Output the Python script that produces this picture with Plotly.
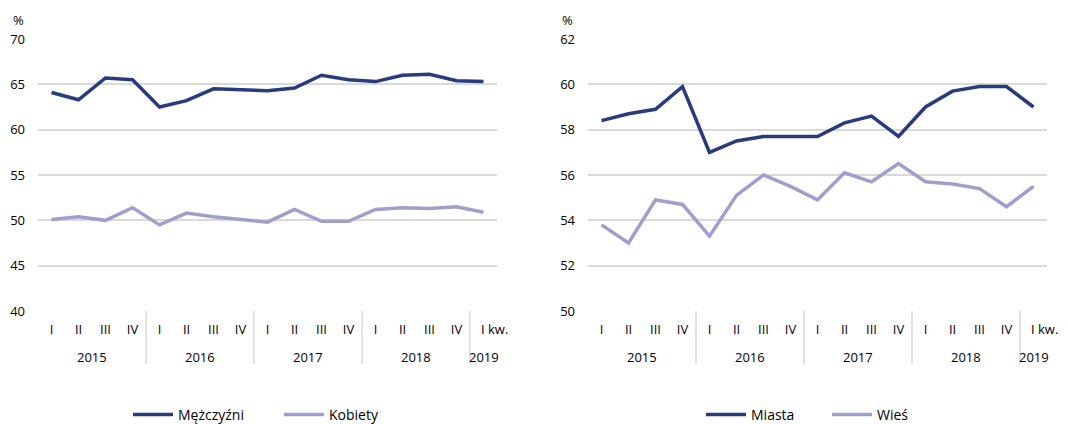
import plotly.graph_objects as go

quarters = ["I", "II", "III", "IV"] * 4 + ["I"]
years = ["2015", "2016", "2017", "2018", "2019"]
year_sizes = [4, 4, 4, 4, 1]

men = [64.1, 63.3, 65.7, 65.5, 62.5, 63.2, 64.5, 64.4, 64.3, 64.6, 66.0, 65.5, 65.3, 66.0, 66.1, 65.4, 65.3]
women = [50.1, 50.4, 50.0, 51.4, 49.5, 50.8, 50.4, 50.1, 49.8, 51.2, 49.9, 49.9, 51.2, 51.4, 51.3, 51.5, 50.9]
cities = [58.4, 58.7, 58.9, 59.9, 57.0, 57.5, 57.7, 57.7, 57.7, 58.3, 58.6, 57.7, 59.0, 59.7, 59.9, 59.9, 59.0]
rural = [53.8, 53.0, 54.9, 54.7, 53.3, 55.1, 56.0, 55.5, 54.9, 56.1, 55.7, 56.5, 55.7, 55.6, 55.4, 54.6, 55.5]

DARK = "#2A3A7E"
LIGHT = "#A09FCC"
GRID = "#D9D9D9"
FONT = "Open Sans"

# page body has an 8px margin, so the figure is drawn at (8, 8)
OFF = 8
W, H = 1068 - OFF, 424 - OFF


def fx(px):
    return (px - OFF) / W


def fy(py):
    return 1 - (py - OFF) / H


x = list(range(len(quarters)))

fig = go.Figure()
fig.add_trace(go.Scatter(x=x, y=men, name="Mężczyźni", mode="lines",
                         line=dict(color=DARK, width=3.5), xaxis="x", yaxis="y", legend="legend"))
fig.add_trace(go.Scatter(x=x, y=women, name="Kobiety", mode="lines",
                         line=dict(color=LIGHT, width=3.5), xaxis="x", yaxis="y", legend="legend"))
fig.add_trace(go.Scatter(x=x, y=cities, name="Miasta", mode="lines",
                         line=dict(color=DARK, width=3.5), xaxis="x2", yaxis="y2", legend="legend2"))
fig.add_trace(go.Scatter(x=x, y=rural, name="Wieś", mode="lines",
                         line=dict(color=LIGHT, width=3.5), xaxis="x2", yaxis="y2", legend="legend2"))

ydom = [fy(311), fy(39)]
dom1 = [fx(38), fx(497)]
dom2 = [fx(588), fx(1047)]

xcommon = dict(range=[-0.5, 16.5], tickmode="array", tickvals=x[:-1], ticktext=quarters[:-1],
               showgrid=False, zeroline=False, showline=False, ticks="", ticklabelstandoff=9,
               tickfont=dict(family=FONT, size=13, color="#000"), fixedrange=True)
ycommon = dict(showgrid=True, gridcolor=GRID, gridwidth=2, zeroline=False, showline=False,
               ticks="", tickfont=dict(family=FONT, size=13, color="#000"), ticklabelstandoff=12)

LEG_Y = fy(415)

fig.update_layout(
    width=W, height=H, margin=dict(l=0, r=0, t=0, b=0, autoexpand=False),
    paper_bgcolor="white", plot_bgcolor="white",
    font=dict(family=FONT, size=13, color="#000"),
    xaxis=dict(domain=dom1, anchor="y", **xcommon),
    yaxis=dict(domain=ydom, anchor="x", range=[40, 70], dtick=5, **ycommon),
    xaxis2=dict(domain=dom2, anchor="y2", **xcommon),
    yaxis2=dict(domain=ydom, anchor="x2", range=[50, 62], dtick=2, **ycommon),
    legend=dict(orientation="h", x=fx(128), y=LEG_Y, yanchor="middle", xanchor="left",
                font=dict(family=FONT, size=14), itemwidth=40, entrywidth=96, entrywidthmode="pixels"),
    legend2=dict(orientation="h", x=fx(701), y=LEG_Y, yanchor="middle", xanchor="left",
                 font=dict(family=FONT, size=14), itemwidth=40, entrywidth=71, entrywidthmode="pixels"),
    showlegend=True,
)

annotations = []
shapes = []
for xa, ya, pct_x in (("x", "y", 18), ("x2", "y2", 567)):
    annotations.append(dict(text="%", xref="paper", yref="paper", x=fx(pct_x), y=fy(20),
                            showarrow=False, font=dict(family=FONT, size=13), xanchor="center", yanchor="middle"))
    annotations.append(dict(text="I kw.", xref=xa, yref="paper", x=x[-1], y=fy(329),
                            xanchor="left", yanchor="middle", xshift=-5, showarrow=False,
                            font=dict(family=FONT, size=13)))
    start = 0
    for yr, n in zip(years, year_sizes):
        center = start + (n - 1) / 2
        annotations.append(dict(text=yr, xref=xa, yref="paper", x=center, y=fy(357),
                                xanchor="center", yanchor="middle", showarrow=False,
                                font=dict(family=FONT, size=13)))
        if start > 0:
            shapes.append(dict(type="line", xref=xa, yref="paper", x0=start - 0.5, x1=start - 0.5,
                               y0=fy(311), y1=fy(364), line=dict(color=GRID, width=1.5)))
        start += n

fig.update_layout(annotations=annotations, shapes=shapes)
fig.write_html("out.html")
